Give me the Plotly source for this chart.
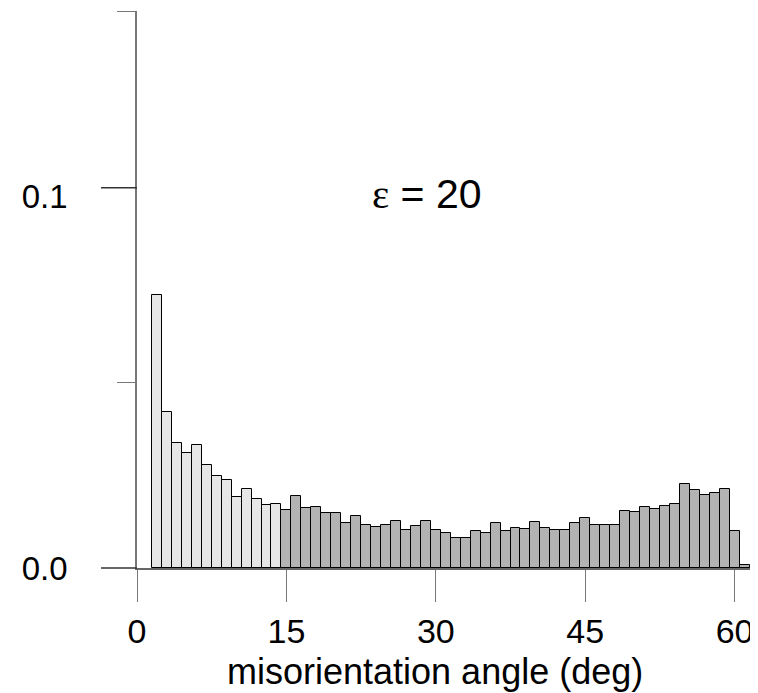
import plotly.graph_objects as go

# misorientation angle bins (deg, bin centres) and frequencies
angles = list(range(2, 63))
freq = [0.0735, 0.0421, 0.0336, 0.0311, 0.0331, 0.0278, 0.0247, 0.0238, 0.0191,
        0.0213, 0.0187, 0.0169, 0.0172, 0.0155, 0.0195, 0.0162, 0.0164, 0.0149,
        0.0147, 0.0121, 0.0140, 0.0115, 0.0111, 0.0116, 0.0126, 0.0102, 0.0114,
        0.0127, 0.0102, 0.0094, 0.0080, 0.0080, 0.0099, 0.0094, 0.0120, 0.0099,
        0.0107, 0.0105, 0.0125, 0.0108, 0.0102, 0.0103, 0.0121, 0.0136, 0.0115,
        0.0117, 0.0117, 0.0154, 0.0152, 0.0164, 0.0158, 0.0168, 0.0173, 0.0225,
        0.0209, 0.0196, 0.0202, 0.0213, 0.0100, 0.0009, 0.0005]
low_angle_limit = 15
x_ticks = [0, 15, 30, 45, 60]
y_ticks = [0.0, 0.1]
y_tick_labels = ["0.0", "0.1"]
y_minor = [0.05, 0.15]
y_max = 0.15
x_max = 62.35

LIGHT = "#e6e6e6"
DARK = "#b3b3b3"
colors = [LIGHT if a < low_angle_limit else DARK for a in angles]

fig = go.Figure(go.Bar(
    x=angles, y=freq, width=1.0,
    marker=dict(color=colors, line=dict(color="black", width=1)),
    showlegend=False,
))

FONT = "Liberation Sans, Arial, sans-serif"
# the page body adds an 8px offset; margins compensate for it
L, R, T, B = 129, 8, 3, 133
W, H = 758, 693
plot_w = W - L - R

fig.update_layout(
    width=W, height=H,
    margin=dict(l=L, r=R, t=T, b=B, autoexpand=False),
    paper_bgcolor="white", plot_bgcolor="white",
    bargap=0,
    font=dict(family=FONT, color="black"),
    xaxis=dict(
        range=[0, x_max], tickvals=x_ticks, ticktext=[str(v) for v in x_ticks],
        ticks="outside", ticklen=32, tickcolor="#777", tickwidth=1.3,
        tickfont=dict(size=34, family=FONT), ticklabelstandoff=0,
        showline=True, linecolor="#666", linewidth=1.5,
        showgrid=False, zeroline=False, automargin=False,
    ),
    yaxis=dict(
        range=[0, y_max], tickvals=y_ticks, ticktext=y_tick_labels,
        ticks="", tickfont=dict(size=33, family=FONT), ticklabelstandoff=61,
        minor=dict(tickvals=y_minor, ticks="outside", ticklen=18,
                   tickcolor="#777", tickwidth=1.3),
        showline=True, linecolor="#777", linewidth=1.5,
        showgrid=False, zeroline=False, automargin=False,
    ),
)

# major y tick marks (the 0.1 mark sits slightly above its label in the source)
for yv in [0.0, 0.1024]:
    fig.add_shape(type="line", xref="paper", yref="paper",
                  x0=-36 / plot_w, x1=0, y0=yv / y_max, y1=yv / y_max,
                  line=dict(color="#333", width=1.3), layer="above")

fig.add_annotation(
    x=29.1, y=0.1006, xref="x", yref="y", showarrow=False,
    text='<span style="font-family:Liberation Serif, DejaVu Serif, serif">ε</span> = 20',
    font=dict(size=41, family=FONT, color="black"),
)

fig.add_annotation(
    x=29.9, xref="x", y=0, yref="paper", yshift=-103, showarrow=False,
    text="misorientation angle (deg)", yanchor="middle",
    font=dict(size=36, family=FONT, color="black"),
)

fig.write_html("out.html")
